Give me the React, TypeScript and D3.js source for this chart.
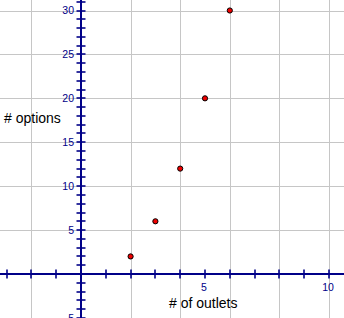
import React from "react";
import * as d3 from "d3";

// Outlets vs. options
const outlets = [2, 3, 4, 5, 6];
const options = [2, 6, 12, 20, 30];

const xGridValues = [-2, 2, 4, 6, 8, 10];
const xTickValues = [-3, -2, -1, 1, 2, 3, 4, 5, 6, 7, 8, 9, 10];
const xLabelValues = [5, 10];
const yGridValues = [-5, 5, 10, 15, 20, 25, 30];
const yLabelValues = [-5, 5, 10, 15, 20, 25, 30];
const yTickValues = d3.range(-5, 32).filter((v) => v !== 0);

const xLabel = "# of outlets";
const yLabel = "# options";

const W = 344;
const H = 318;

export default function App() {
  const x = d3.scaleLinear().domain([0, 10]).range([81, 329]);
  const y = d3.scaleLinear().domain([0, 30]).range([274, 10.5]);
  const navy = "#000088";
  const grid = "#c6c6c6";
  const font = "'Liberation Sans', Arial, sans-serif";

  return (
    <svg
      width={W}
      height={H}
      style={{ position: "fixed", left: 0, top: 0, background: "#fff" }}
    >
      <rect width={W} height={H} fill="#fff" />
      {/* grid */}
      {xGridValues.map((v) => (
        <line
          key={"gx" + v}
          x1={Math.round(x(v)) + 0.5}
          x2={Math.round(x(v)) + 0.5}
          y1={0}
          y2={H}
          stroke={grid}
          strokeWidth={1}
        />
      ))}
      {yGridValues.map((v) => (
        <line
          key={"gy" + v}
          x1={0}
          x2={W}
          y1={Math.round(y(v)) + 0.5}
          y2={Math.round(y(v)) + 0.5}
          stroke={grid}
          strokeWidth={1}
        />
      ))}

      {/* axis titles */}
      <text x={4} y={123} fontFamily={font} fontSize={14} fill="#000">
        {yLabel}
      </text>
      <text x={169} y={308} fontFamily={font} fontSize={14} fill="#000">
        {xLabel}
      </text>

      {/* axes */}
      <line x1={0} x2={W} y1={y(0)} y2={y(0)} stroke={navy} strokeWidth={2} />
      <line x1={x(0)} x2={x(0)} y1={0} y2={H} stroke={navy} strokeWidth={2} />
      {xTickValues.map((v) => (
        <line
          key={"tx" + v}
          x1={Math.round(x(v))}
          x2={Math.round(x(v))}
          y1={y(0) - 4.5}
          y2={y(0) + 4.5}
          stroke={navy}
          strokeWidth={1.6}
        />
      ))}
      {yTickValues.map((v) => (
        <line
          key={"ty" + v}
          x1={x(0) - 4.5}
          x2={x(0) + 4.5}
          y1={Math.round(y(v))}
          y2={Math.round(y(v))}
          stroke={navy}
          strokeWidth={1.6}
        />
      ))}
      {xLabelValues.map((v) => (
        <text
          key={"lx" + v}
          x={x(v) - 1}
          y={291}
          textAnchor="middle"
          fontFamily={font}
          fontSize={10.5}
          fill={navy}
        >
          {v}
        </text>
      ))}
      {yLabelValues.map((v) => (
        <text
          key={"ly" + v}
          x={74}
          y={y(v) + 3.8}
          textAnchor="end"
          fontFamily={font}
          fontSize={10.5}
          fill={navy}
        >
          {v}
        </text>
      ))}

      {/* data points */}
      {outlets.map((o, i) => (
        <circle
          key={"p" + i}
          cx={x(o)}
          cy={y(options[i])}
          r={2.6}
          fill="#ee0000"
          stroke="#000"
          strokeWidth={1}
        />
      ))}
    </svg>
  );
}
